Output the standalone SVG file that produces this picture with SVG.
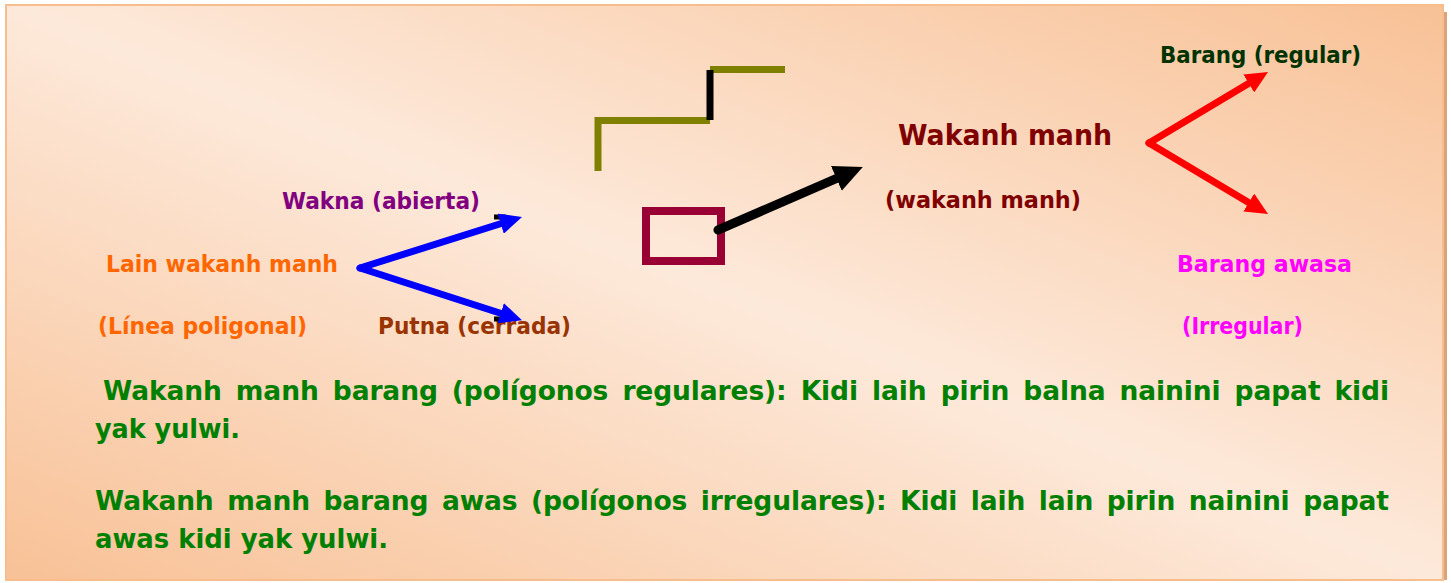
<svg xmlns="http://www.w3.org/2000/svg" width="1451" height="583" viewBox="0 0 1451 583">
  <defs>
    <linearGradient id="bg" x1="0" y1="1" x2="1" y2="0">
      <stop offset="0" stop-color="#f8c196"/>
      <stop offset="0.5" stop-color="#fde9da"/>
      <stop offset="1" stop-color="#f8c196"/>
    </linearGradient>
    <marker id="headBlue" viewBox="0 0 3.2 3" refX="0.8" refY="1.5" markerWidth="3.2" markerHeight="3" markerUnits="strokeWidth" orient="auto">
      <path d="M0,0 L3.2,1.5 L0,3 z" fill="#0000ff"/>
    </marker>
    <marker id="headRed" viewBox="0 0 3.2 3" refX="0.8" refY="1.5" markerWidth="3.2" markerHeight="3" markerUnits="strokeWidth" orient="auto">
      <path d="M0,0 L3.2,1.5 L0,3 z" fill="#ff0000"/>
    </marker>
    <marker id="headBlack" viewBox="0 0 3.2 3" refX="0.8" refY="1.5" markerWidth="3.2" markerHeight="3" markerUnits="strokeWidth" orient="auto">
      <path d="M0,0 L3.2,1.5 L0,3 z" fill="#000000"/>
    </marker>
  </defs>
  <style>
    text { font-family: "DejaVu Sans", "Liberation Sans", sans-serif; font-weight: bold; }
    .lbl { font-size: 23px; }
    .big { font-size: 28px; }
    .para { font-size: 26.5px; fill: #008000; }
    .conn { fill: none; stroke-linecap: round; }
  </style>

  <rect x="0" y="0" width="1451" height="583" fill="#ffffff"/>
  <rect x="1443" y="12" width="4" height="568" fill="#d9a37c"/>
  <rect x="6" y="5" width="1437" height="575" fill="url(#bg)" stroke="#f8bd8c" stroke-width="2"/>

  <g id="node-barang-regular"><text class="lbl" x="1160" y="63" fill="#003300" textLength="201" lengthAdjust="spacingAndGlyphs">Barang (regular)</text></g>
  <g id="node-wakanh-manh"><text class="big" x="898" y="145" fill="#800000" textLength="214" lengthAdjust="spacingAndGlyphs">Wakanh manh</text></g>
  <g id="node-wakanh-manh-sub"><text class="lbl" x="885" y="208" fill="#800000" textLength="196" lengthAdjust="spacingAndGlyphs">(wakanh manh)</text></g>
  <g id="node-wakna"><text class="lbl" x="282" y="209" fill="#800080" textLength="198" lengthAdjust="spacingAndGlyphs">Wakna (abierta)</text></g>
  <g id="node-lain"><text class="lbl" x="106" y="272" fill="#ff6600" textLength="232" lengthAdjust="spacingAndGlyphs">Lain wakanh manh</text></g>
  <g id="node-linea"><text class="lbl" x="98" y="334" fill="#ff6600" textLength="209" lengthAdjust="spacingAndGlyphs">(Línea poligonal)</text></g>
  <g id="node-putna"><text class="lbl" x="378" y="334" fill="#993300" textLength="193" lengthAdjust="spacingAndGlyphs">Putna (cerrada)</text></g>
  <g id="node-barang-awasa"><text class="lbl" x="1177" y="272" fill="#ff00ff" textLength="175" lengthAdjust="spacingAndGlyphs">Barang awasa</text></g>
  <g id="node-irregular"><text class="lbl" x="1182" y="334" fill="#ff00ff" textLength="121" lengthAdjust="spacingAndGlyphs">(Irregular)</text></g>

  <g id="node-open-polyline">
    <polyline points="598,171 598,120.5 710,120.5" fill="none" stroke="#808000" stroke-width="7"/>
    <line x1="710" y1="69.5" x2="785" y2="69.5" stroke="#808000" stroke-width="7"/>
    <line x1="710" y1="70" x2="710" y2="120" stroke="#000000" stroke-width="7"/>
  </g>
  <g id="node-closed-rect">
    <rect x="646" y="211" width="75" height="50" fill="none" stroke="#990033" stroke-width="8"/>
  </g>

  <g id="node-para1">
    <text class="para" x="103" y="400" word-spacing="5" textLength="1286" lengthAdjust="spacing">Wakanh manh barang (polígonos regulares): Kidi laih pirin balna nainini papat kidi</text>
    <text class="para" x="95" y="438" textLength="145" lengthAdjust="spacingAndGlyphs">yak yulwi.</text>
  </g>
  <g id="node-para2">
    <text class="para" x="95" y="510" word-spacing="4.5" textLength="1294" lengthAdjust="spacing">Wakanh manh barang awas (polígonos irregulares): Kidi laih lain pirin nainini papat</text>
    <text class="para" x="95" y="548" textLength="293" lengthAdjust="spacingAndGlyphs">awas kidi yak yulwi.</text>
  </g>

  <g id="connectors">
    <line x1="494" y1="217" x2="506" y2="217" stroke="#000000" stroke-width="5"/>
    <line x1="494" y1="319" x2="506" y2="319" stroke="#000000" stroke-width="5"/>
    <line class="conn" x1="360" y1="268" x2="506" y2="222" stroke="#0000ff" stroke-width="7" marker-end="url(#headBlue)"/>
    <line class="conn" x1="360" y1="268" x2="506" y2="315" stroke="#0000ff" stroke-width="7" marker-end="url(#headBlue)"/>
    <line class="conn" x1="718" y1="230" x2="843" y2="175.6" stroke="#000000" stroke-width="9" marker-end="url(#headBlack)"/>
    <line class="conn" x1="1149" y1="143" x2="1253.6" y2="80.6" stroke="#ff0000" stroke-width="7" marker-end="url(#headRed)"/>
    <line class="conn" x1="1149" y1="143" x2="1253.6" y2="205.4" stroke="#ff0000" stroke-width="7" marker-end="url(#headRed)"/>
  </g>
</svg>
